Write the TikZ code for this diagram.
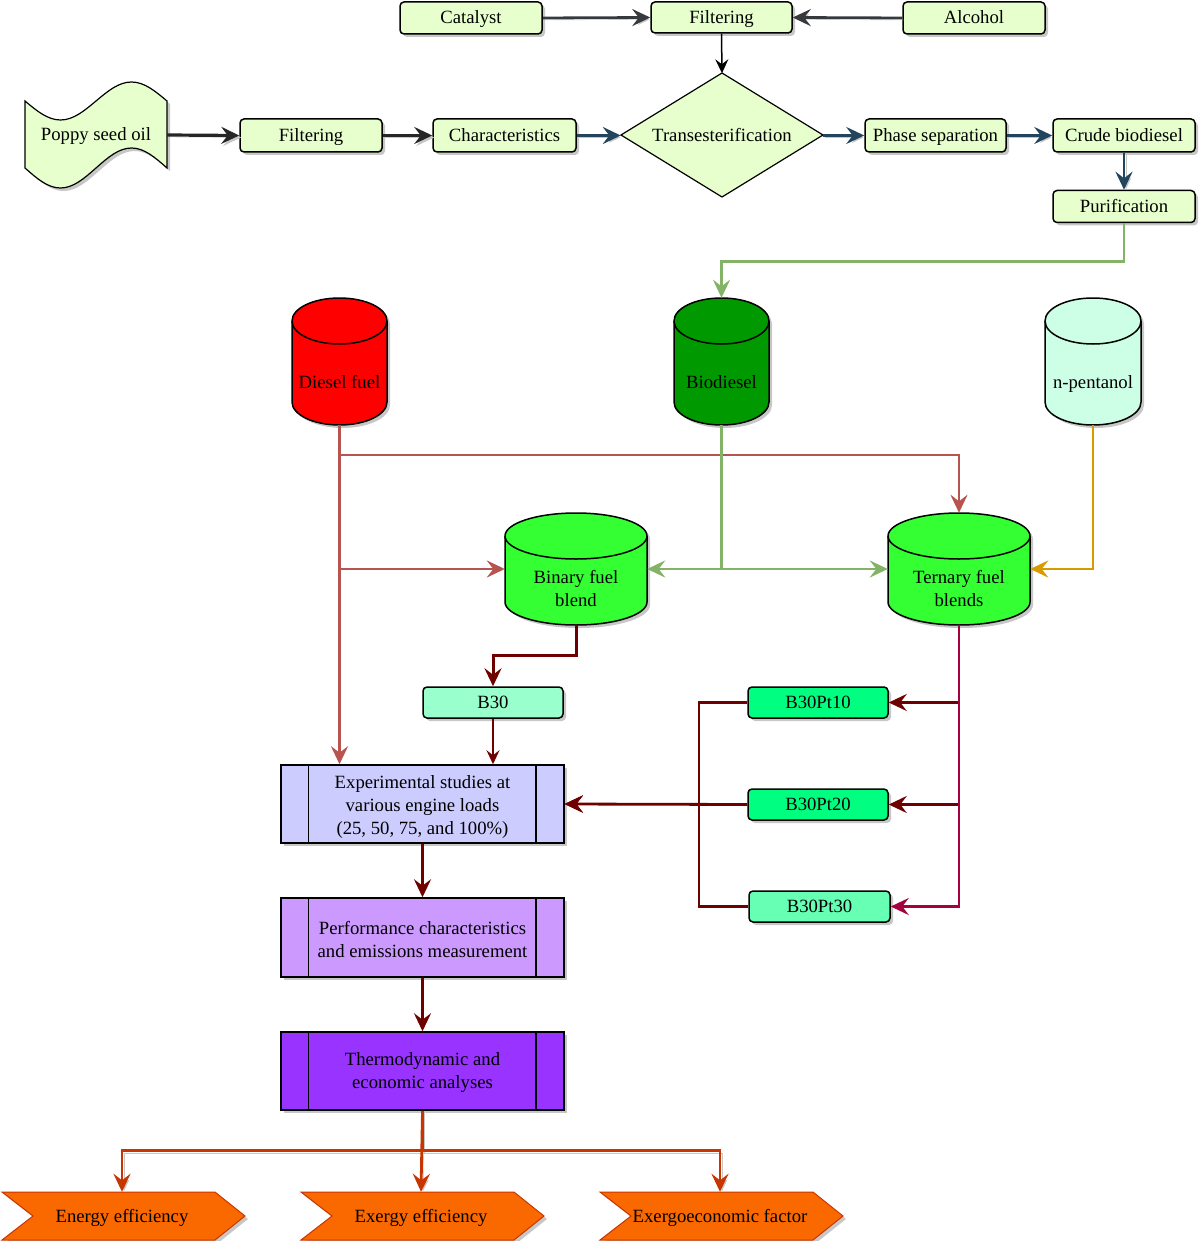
\documentclass[tikz,border=0pt]{standalone}
\usepackage{fontspec}
\setmainfont{Liberation Serif}
\usetikzlibrary{arrows.meta,shadows}
\definecolor{pg}{HTML}{E6FFCC}
\definecolor{dgray}{HTML}{36393D}
\definecolor{navy}{HTML}{23445D}
\definecolor{redE}{HTML}{B85450}
\definecolor{greenE}{HTML}{82B366}
\definecolor{orangeE}{HTML}{D79B00}
\definecolor{maroon}{HTML}{6F0000}
\definecolor{crimson}{HTML}{A50040}
\definecolor{orR}{HTML}{C73500}
\definecolor{orF}{HTML}{FA6800}
\definecolor{dred}{HTML}{FF0000}
\definecolor{dgreen}{HTML}{009900}
\definecolor{mint}{HTML}{CCFFE6}
\definecolor{lgreen}{HTML}{33FF33}
\definecolor{lav}{HTML}{CCCCFF}
\definecolor{lilac}{HTML}{CC99FF}
\definecolor{purp}{HTML}{9933FF}
\definecolor{bthirty}{HTML}{99FFCC}
\definecolor{bpt}{HTML}{00FF80}
\definecolor{bptc}{HTML}{66FFB3}
\newcommand\fcyl[9]{%
 \path[draw=black,line width=1.5pt,fill=#7,shd] (#2-#5,#3+#6) -- (#2-#5,#4-#6) arc[start angle=180,end angle=360,x radius=#5pt,y radius=#6pt] -- (#2+#5,#3+#6) arc[start angle=0,end angle=180,x radius=#5pt,y radius=#6pt] -- cycle;
 \draw[line width=1.5pt] (#2-#5,#3+#6) arc[start angle=180,end angle=360,x radius=#5pt,y radius=#6pt];
 \node[minimum width={2*#5*1pt}, minimum height={(#4-#3)*1pt}] (#1) at (#2,{(#3+#4)/2}) {};
 \node (#1t) at (#2,#9) {#8};
}
\begin{document}
\begin{tikzpicture}[x=1pt,y=-1pt,
  >={Stealth[length=18pt,width=17pt,inset=6.5pt]},
  every node/.style={font=\fontsize{18.7}{23}\selectfont, inner sep=0pt, align=center},
  one/.style={text height=15.5pt, text depth=3.5pt},
  shd/.style={drop shadow={shadow xshift=3pt,shadow yshift=-3pt,fill=black,opacity=0.22}},
  rbox/.style={draw=black, line width=1.5pt, rounded corners=4pt, shd, minimum height=32pt, one},
  proc/.style={draw=black, line width=1.5pt, shd, minimum width=283pt, minimum height=78pt},
  esh/.style={preaction={draw=black!22, transform canvas={shift={(2pt,-2pt)}}}},
  edge/.style={->, line width=2.8pt},
  small/.style={>={Stealth[length=14pt,width=13pt,inset=5pt]}},
]
\useasboundingbox (0,0) rectangle (1200,1241);

% ---------- top row ----------
\node[rbox, fill=pg, minimum width=142pt] (cat) at (471,18) {Catalyst};
\node[rbox, fill=pg, minimum width=141pt, minimum height=31pt] (filt1) at (721.5,17.5) {Filtering};
\node[rbox, fill=pg, minimum width=142pt] (alc) at (974,18) {Alcohol};

% poppy seed oil (tape)
\path[draw=black, line width=1.2pt, fill=pg, shd] (25,101) sin (60.5,120) cos (96,101) sin (131.5,82) cos (167,101)
  -- (167,168) sin (131.5,148) cos (96,168) sin (60.5,188) cos (25,168) -- cycle;
\node[minimum width=142pt, minimum height=106pt, one] (poppy) at (96,135) {Poppy seed oil};

\node[rbox, fill=pg, minimum width=142pt, minimum height=33pt] (filt2) at (311,135.5) {Filtering};
\node[rbox, fill=pg, minimum width=143pt, minimum height=33pt] (char) at (504.5,135.5) {Characteristics};

% transesterification diamond
\path[draw=black, line width=1.2pt, fill=pg] (621,135) -- (722,73) -- (823,135) -- (722,197) -- cycle;
\node[minimum width=202pt, minimum height=124pt, one] (trans) at (722,135.5) {Transesterification};

\node[rbox, fill=pg, minimum width=141pt, minimum height=33pt] (phase) at (935.5,135.5) {Phase separation};
\node[rbox, fill=pg, minimum width=142pt, minimum height=33pt] (crude) at (1124,135.5) {Crude biodiesel};
\node[rbox, fill=pg, minimum width=142pt, minimum height=32pt] (pur) at (1124,206.5) {Purification};

% top connectors
\draw[edge, dgray, esh] (cat.east) -- (filt1.west);
\draw[edge, dgray, esh] (alc.west) -- (filt1.east);
\draw[->, line width=1.5pt, black, small] (filt1.south) -- (trans.north);
\draw[->, line width=3.2pt, black!85, esh] (poppy.east) -- (filt2.west);
\draw[->, line width=3.2pt, black!85, esh] (filt2.east) -- (char.west);
\draw[edge, navy, esh] (char.east) -- (trans.west);
\draw[edge, navy, esh] (trans.east) -- (phase.west);
\draw[edge, navy, esh] (phase.east) -- (crude.west);
\draw[edge, navy, esh] (crude.south) -- (pur.north);

% ---------- cylinders ----------
\fcyl{dies}{339.5}{298}{425}{47.5}{23}{dred}{Diesel fuel}{382}
\fcyl{bio}{721.5}{298}{425}{47.5}{23}{dgreen}{Biodiesel}{382}
\fcyl{pent}{1093}{298}{425}{48}{23}{mint}{n-\smash{p}entanol}{382}
\fcyl{bin}{576}{513}{625}{71}{23}{lgreen}{Binary fuel\\blend}{588.5}
\fcyl{tern}{959}{513}{625}{71}{23}{lgreen}{Ternary fuel\\blends}{588.5}

\draw[edge, greenE] (pur.south) -- ++(0,38) -| (bio.north);

% ---------- blends ----------
\node[rbox, fill=bthirty, minimum width=140pt, minimum height=31pt] (b30) at (493,702.5) {B30};
\node[rbox, fill=bpt, minimum width=140pt, minimum height=31pt] (pt10) at (818,702.5) {B30Pt10};
\node[rbox, fill=bpt, minimum width=140pt, minimum height=31pt] (pt20) at (818,804.5) {B30Pt20};
\node[rbox, fill=bptc, minimum width=141pt, minimum height=31pt] (pt30) at (819.5,906.5) {B30Pt30};

% ---------- process boxes ----------
\node[proc, fill=lav] (exp) at (422.5,804) {};
\node (expt) at (422.5,807) {Experimental studies at\\various engine loads\\(25, 50, 75, and 100\%)};
\node[proc, fill=lilac, minimum height=79pt] (perf) at (422.5,937.5) {};
\node (perft) at (422.5,939.5) {Performance characteristics\\and emissions measurement};
\node[proc, fill=purp] (thermo) at (422.5,1071) {};
\node (thermot) at (422.5,1073) {Thermodynamic and\\economic analyses};
\foreach \n in {exp,perf,thermo}{
  \draw[line width=1.5pt] ([xshift=28pt]\n.north west) -- ([xshift=28pt]\n.south west);
  \draw[line width=1.5pt] ([xshift=-29pt]\n.north east) -- ([xshift=-29pt]\n.south east);
}

% ---------- mid connectors ----------
\coordinate (dj) at (339.5,455);
\draw[edge, redE] (dies.south) -- (dj) -| (tern.north);
\draw[edge, redE] (dies.south) |- (bin.west);
\draw[edge, redE] (dies.south) -- (dies.south |- exp.north);
\draw[edge, greenE] (bio.south) |- (bin.east);
\draw[edge, greenE] (bio.south) |- (tern.west);
\draw[edge, orangeE] (pent.south) |- (tern.east);

\draw[edge, maroon, line width=3pt] (bin.south) -- ++(0,30) -| (b30.north);
\draw[->, maroon, line width=1.8pt, small] (b30.south) -- (b30.south |- exp.north);

\draw[edge, maroon] (tern.south) |- (pt10.east);
\draw[edge, maroon] (tern.south) |- (pt20.east);
\draw[edge, crimson] (tern.south) |- (pt30.east);
\coordinate (lj1) at (699,702.5);
\coordinate (lj3) at (699,906.5);
\draw[edge, maroon] (pt10.west) -- (lj1) |- (exp.east);
\draw[edge, maroon] (pt20.west) -- (exp.east);
\draw[edge, maroon] (pt30.west) -- (lj3) |- (exp.east);

\draw[edge, maroon, line width=3pt] (exp.south) -- (perf.north);
\draw[edge, maroon, line width=3pt] (perf.south) -- (thermo.north);

% ---------- outputs ----------
\foreach \dx/\nm/\tx in {0/en/Energy efficiency, 299/ex/Exergy efficiency, 598/eco/Exergoeconomic factor}{
  \path[draw=orR, fill=orF, line width=1pt, shd] (2+\dx,1192) -- (215+\dx,1192) -- (245+\dx,1216) -- (215+\dx,1240) -- (2+\dx,1240) -- (33+\dx,1216) -- cycle;
  \node[minimum width=240pt, minimum height=48pt, one] (\nm) at (122+\dx,1216) {\tx};
}
\draw[edge, orR, esh] (thermo.south) -- ++(0,40) -| (en.north);
\draw[edge, orR, esh] (thermo.south) -- (ex.north);
\draw[edge, orR, esh] (thermo.south) -- ++(0,40) -| (eco.north);
\end{tikzpicture}
\end{document}
